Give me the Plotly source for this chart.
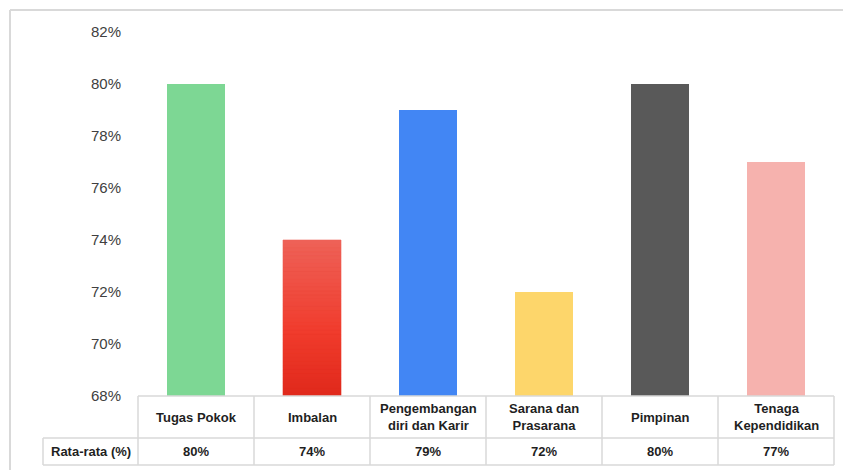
import numpy as np
import plotly.graph_objects as go

categories = ["Tugas Pokok", "Imbalan", "Pengembangan diri dan Karir",
              "Sarana dan Prasarana", "Pimpinan", "Tenaga Kependidikan"]
header_labels = ["Tugas Pokok", "Imbalan", "Pengembangan<br>diri dan Karir",
                 "Sarana dan<br>Prasarana", "Pimpinan", "Tenaga<br>Kependidikan"]
values = [80, 74, 79, 72, 80, 77]
row_label = "Rata-rata (%)"
colors = ["#7DD794", "#E8362A", "#4286F4", "#FDD66B", "#595959", "#F6B2AE"]
y_ticks = [68, 70, 72, 74, 76, 78, 80, 82]

W, H = 843, 470
L, R, T, B = 138, 9, 32, 74
Y_MIN, Y_MAX = 68, 82
pw, ph = W - L - R, H - T - B

def px_x(x):
    return (x - L) / pw

def px_y(y):
    return (H - B - y) / ph

fig = go.Figure()
fig.add_trace(go.Bar(x=categories, y=values, marker=dict(color=colors, line=dict(width=0)),
                     width=0.5, hoverinfo="skip"))

# gradient overlay for Imbalan bar
gi = 1
N = 40
edges = np.linspace(Y_MIN, values[gi], N + 1)
t = (edges[:-1] + edges[1:]) / 2
frac = (t - Y_MIN) / (values[gi] - Y_MIN)  # 0 bottom, 1 top
stops_f = [0.0, 0.4, 1.0]
stops_c = [(0xDF, 0x29, 0x1B), (0xF0, 0x3B, 0x2C), (0xEE, 0x62, 0x58)]
seg_cols = []
for f in frac:
    c = [np.interp(f, stops_f, [s[k] for s in stops_c]) for k in range(3)]
    seg_cols.append("rgb(%d,%d,%d)" % tuple(int(round(v)) for v in c))
fig.add_trace(go.Bar(x=[categories[gi]] * N, y=np.diff(edges), base=edges[:-1],
                     marker=dict(color=seg_cols, line=dict(width=0.6, color=seg_cols)),
                     width=0.5, hoverinfo="skip"))

grid = "#D9D9D9"
shapes = []
# outer chart border (left + top)
shapes.append(dict(type="line", xref="paper", yref="paper", x0=px_x(10), x1=px_x(843),
                   y0=px_y(10), y1=px_y(10), line=dict(color=grid, width=2)))
shapes.append(dict(type="line", xref="paper", yref="paper", x0=px_x(10), x1=px_x(10),
                   y0=px_y(10), y1=px_y(470), line=dict(color=grid, width=2)))

row_top = px_y(H - B)
row_mid = px_y(438)
row_bot = px_y(465)
n = len(categories)
# horizontal lines of the table
shapes.append(dict(type="line", xref="paper", yref="paper", x0=0, x1=1, y0=row_top, y1=row_top,
                   line=dict(color=grid, width=1.5)))
shapes.append(dict(type="line", xref="paper", yref="paper", x0=px_x(43), x1=1, y0=row_mid, y1=row_mid,
                   line=dict(color=grid, width=1.5)))
shapes.append(dict(type="line", xref="paper", yref="paper", x0=px_x(43), x1=1, y0=row_bot, y1=row_bot,
                   line=dict(color=grid, width=1.5)))
shapes.append(dict(type="line", xref="paper", yref="paper", x0=px_x(43), x1=px_x(43), y0=row_mid, y1=row_bot,
                   line=dict(color=grid, width=1.5)))
for i in range(n + 1):
    xp = i / n
    shapes.append(dict(type="line", xref="paper", yref="paper", x0=xp, x1=xp, y0=row_top, y1=row_bot,
                       line=dict(color=grid, width=1.5)))

ann = []
tfont = dict(family="Liberation Sans, Arial, sans-serif", size=13, color="#1F1F1F")
for i, lab in enumerate(header_labels):
    ann.append(dict(xref="paper", yref="paper", x=(i + 0.5) / n, y=(row_top + row_mid) / 2,
                    text="<b>%s</b>" % lab, showarrow=False, font=tfont,
                    xanchor="center", yanchor="middle"))
    ann.append(dict(xref="paper", yref="paper", x=(i + 0.5) / n, y=(row_mid + row_bot) / 2,
                    text="<b>%d%%</b>" % values[i], showarrow=False, font=tfont,
                    xanchor="center", yanchor="middle"))
ann.append(dict(xref="paper", yref="paper", x=(px_x(43) + 0) / 2, y=(row_mid + row_bot) / 2,
                text="<b>%s</b>" % row_label, showarrow=False, font=tfont,
                xanchor="center", yanchor="middle"))

fig.update_layout(
    width=W, height=H,
    margin=dict(l=L, r=R, t=T, b=B, autoexpand=False),
    paper_bgcolor="white", plot_bgcolor="white",
    barmode="overlay", showlegend=False,
    xaxis=dict(range=[-0.5, n - 0.5], showticklabels=False, showgrid=False, zeroline=False,
               showline=False, ticks=""),
    yaxis=dict(range=[Y_MIN, Y_MAX], tickvals=y_ticks, ticktext=["%d%%" % v for v in y_ticks],
               showgrid=False, zeroline=False, showline=False, ticks="",
               ticklabelstandoff=16,
               tickfont=dict(family="Liberation Sans, Arial, sans-serif", size=15, color="#404040")),
    shapes=shapes, annotations=ann,
)

fig.write_html("out.html")
